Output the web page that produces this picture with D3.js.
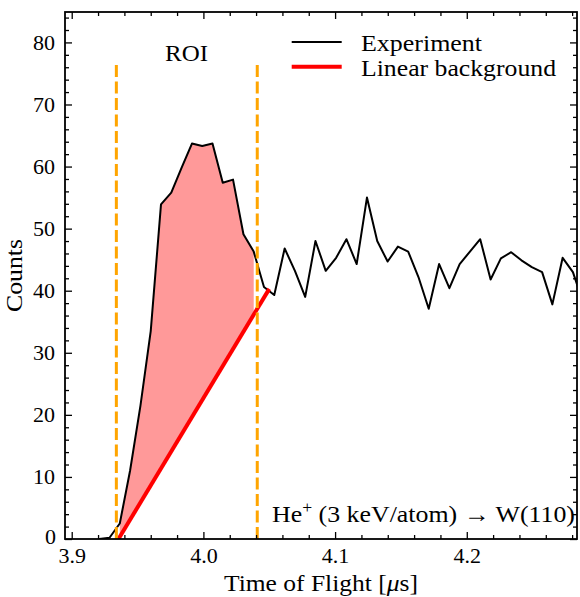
<!DOCTYPE html>
<html><head><meta charset="utf-8">
<script src="https://cdn.jsdelivr.net/npm/d3@7"></script>
<style>
body{margin:0;background:#fff}
svg text{font-family:"Liberation Serif","Times New Roman",serif !important;fill:#000}
</style>
</head><body><svg id="c" width="580" height="597"></svg>
<script>
// ---- data ----
const tof = [3.9209,3.9287,3.9365,3.9443,3.9522,3.9600,3.9678,3.9756,3.9834,3.9913,3.9991,4.0069,4.0147,4.0225,4.0304,4.0382,4.0460,4.0538,4.0617,4.0695,4.0773,4.0851,4.0929,4.1008,4.1086,4.1164,4.1242,4.1320,4.1399,4.1477,4.1555,4.1633,4.1711,4.1790,4.1868,4.1946,4.2024,4.2102,4.2181,4.2259,4.2337,4.2415,4.2494,4.2572,4.2650,4.2728,4.2806,4.2885];
const counts = [0.0,0.2,2.5,11.0,21.5,33.5,53.9,55.8,59.8,63.7,63.3,63.7,57.4,57.9,49.1,46.3,40.6,39.3,46.8,43.2,39.0,48.0,43.2,45.3,48.3,44.3,55.0,48.0,44.7,47.1,46.3,42.2,37.1,44.3,40.4,44.3,46.3,48.3,41.8,45.2,46.2,44.9,43.8,43.0,37.8,45.3,43.0,38.0];
const bgTof = [3.9355, 4.050];
const bgCounts = [0, 40.3];
const roiBounds = [3.9339, 4.0409];
const roiTop = 77;
const xMajor = [3.9, 4.0, 4.1, 4.2];
const xMinor = [3.92,3.94,3.96,3.98,4.02,4.04,4.06,4.08,4.12,4.14,4.16,4.18,4.22,4.24,4.26,4.28];
const yMajor = [0,10,20,30,40,50,60,70,80];
const yMinor = [2,4,6,8,12,14,16,18,22,24,26,28,32,34,36,38,42,44,46,48,52,54,56,58,62,64,66,68,72,74,76,78,82,84];
const legendLabels = ["Experiment", "Linear background"];

// ---- layout ----
const L = 65, R = 577, T = 12, B = 539;
const FONT = '"Liberation Serif","Times New Roman",serif';
const svg = d3.select("#c");
const x = d3.scaleLinear().domain([3.8949, 4.2837]).range([L, R]);
const y = d3.scaleLinear().domain([0, 84.9]).range([B, T]);
const bg = d3.scaleLinear().domain(bgTof).range(bgCounts);

svg.append("clipPath").attr("id","clip").append("rect")
  .attr("x", L).attr("y", T).attr("width", R-L).attr("height", B-T);
const plot = svg.append("g").attr("clip-path","url(#clip)");

const pts = tof.map((t,i)=>({t, c:counts[i]}));
const roiPts = pts.filter(d => d.t >= roiBounds[0] && d.t <= roiBounds[1]);

// fill between experiment and background
plot.append("path").datum(roiPts)
  .attr("d", d3.area().x(d=>x(d.t)).y0(d=>y(bg(d.t))).y1(d=>y(d.c)))
  .attr("fill", "#ff9999").attr("stroke","none");

// experiment line
plot.append("path").datum(pts)
  .attr("d", d3.line().x(d=>x(d.t)).y(d=>y(d.c)))
  .attr("fill","none").attr("stroke","#000").attr("stroke-width",2).attr("stroke-linejoin","round");

// background line
plot.append("path").datum(bgTof.map((t,i)=>({t, c:bgCounts[i]})))
  .attr("d", d3.line().x(d=>x(d.t)).y(d=>y(d.c)))
  .attr("fill","none").attr("stroke","#ff0000").attr("stroke-width",4);

// ROI lines
plot.selectAll("line.roi").data(roiBounds).enter().append("line")
  .attr("x1", d=>x(d)).attr("x2", d=>x(d)).attr("y1", y(0)).attr("y2", y(roiTop))
  .attr("stroke","#ffa500").attr("stroke-width",3).attr("stroke-dasharray","12,4.5");

// ---- axes ----
const fs = 22;
function styleAxis(g){
  g.attr("font-family", FONT).attr("font-size", fs);
  g.select(".domain").remove();
  g.selectAll("line").attr("stroke","#000").attr("stroke-width",1.3);
  g.selectAll("text").style("font-family", FONT).style("font-size", fs+"px").attr("fill","#000");
}
svg.append("g").attr("transform",`translate(0,${B})`)
  .call(d3.axisBottom(x).tickValues(xMajor).tickFormat(d3.format(".1f")).tickSize(-7).tickPadding(8.5)).call(styleAxis);
svg.append("g").attr("transform",`translate(0,${B})`)
  .call(d3.axisBottom(x).tickValues(xMinor).tickFormat("").tickSize(-4)).call(styleAxis);
svg.append("g").attr("transform",`translate(0,${T})`)
  .call(d3.axisTop(x).tickValues(xMajor).tickFormat("").tickSize(-7)).call(styleAxis);
svg.append("g").attr("transform",`translate(0,${T})`)
  .call(d3.axisTop(x).tickValues(xMinor).tickFormat("").tickSize(-4)).call(styleAxis);
const yl = svg.append("g").attr("transform",`translate(${L},0)`)
  .call(d3.axisLeft(y).tickValues(yMajor).tickFormat(d3.format("d")).tickSize(-7).tickPadding(10)).call(styleAxis);
yl.selectAll(".tick").filter(d=>d===0).select("text").attr("x",-9).attr("dy","0.2em");
svg.append("g").attr("transform",`translate(${L},0)`)
  .call(d3.axisLeft(y).tickValues(yMinor).tickFormat("").tickSize(-4)).call(styleAxis);
svg.append("g").attr("transform",`translate(${R},0)`)
  .call(d3.axisRight(y).tickValues(yMajor).tickFormat("").tickSize(-7)).call(styleAxis);
svg.append("g").attr("transform",`translate(${R},0)`)
  .call(d3.axisRight(y).tickValues(yMinor).tickFormat("").tickSize(-4)).call(styleAxis);

// frame
svg.append("rect").attr("x",L).attr("y",T).attr("width",R-L).attr("height",B-T)
  .attr("fill","none").attr("stroke","#000").attr("stroke-width",1.8);

// ---- texts ----
const tfs = 23.5;
svg.append("text").attr("x",165).attr("y",61).attr("font-size",tfs).attr("textLength",43).attr("lengthAdjust","spacingAndGlyphs").text("ROI");

// legend
const legY = [42, 66.7];
const legC = ["#000", "#ff0000"], legW = [2, 4], legLen = [121, 195];
legendLabels.forEach((lab,i)=>{
  svg.append("line").attr("x1",291.7).attr("x2",341.7).attr("y1",legY[i]).attr("y2",legY[i])
    .attr("stroke",legC[i]).attr("stroke-width",legW[i]);
  svg.append("text").attr("x",361).attr("y",legY[i]+9).attr("font-size",tfs)
    .attr("textLength",legLen[i]).attr("lengthAdjust","spacingAndGlyphs").text(lab);
});

// annotation
const ann = svg.append("text").attr("x",272).attr("y",522).attr("font-size",tfs)
  .attr("textLength",303).attr("lengthAdjust","spacingAndGlyphs");
ann.append("tspan").text("He");
ann.append("tspan").attr("font-size",16).attr("dy",-9).text("+");
ann.append("tspan").attr("dy",9).text(" (3 keV/atom) \u2192 W(110)");

// axis labels
const xl = svg.append("text").attr("x",224).attr("y",591).attr("font-size",tfs)
  .attr("textLength",194).attr("lengthAdjust","spacingAndGlyphs");
xl.append("tspan").text("Time of Flight [");
xl.append("tspan").attr("font-style","italic").text("\u03bc");
xl.append("tspan").text("s]");

svg.append("text").attr("transform","translate(22,312) rotate(-90)").attr("font-size",tfs)
  .attr("textLength",73).attr("lengthAdjust","spacingAndGlyphs").text("Counts");
</script>
</body></html>
